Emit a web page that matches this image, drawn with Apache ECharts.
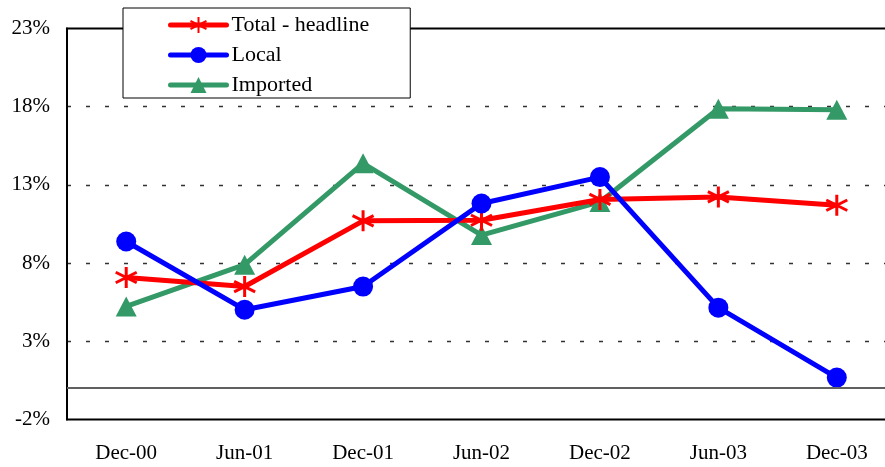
<!DOCTYPE html>
<html>
<head>
<meta charset="utf-8">
<script src="https://cdn.jsdelivr.net/npm/echarts@6/dist/echarts.min.js"></script>
<style>
html,body{margin:0;padding:0;background:#fff;}
#chart{width:885px;height:467px;}
</style>
</head>
<body>
<div id="chart"></div>
<script>
var categories = ['Dec-00', 'Jun-01', 'Dec-01', 'Jun-02', 'Dec-02', 'Jun-03', 'Dec-03'];
var totalHeadline = [7.08, 6.5, 10.7, 10.74, 12.07, 12.23, 11.7];
var local = [9.38, 5.02, 6.5, 11.81, 13.5, 5.15, 0.68];
var imported = [5.23, 7.9, 14.38, 9.79, 11.91, 17.87, 17.8];
var seriesNames = ['Total - headline', 'Local', 'Imported'];
var yMin = -2, yMax = 23, yStep = 5;

var FONT = '"Liberation Serif", "DejaVu Serif", serif';
var asterisk = 'path://M10,0L10,20M1.34,5L18.66,15M1.34,15L18.66,5';

var chart = echarts.init(document.getElementById('chart'), null, {renderer: 'canvas'});
chart.setOption({
  animation: false,
  backgroundColor: '#fff',
  textStyle: {fontFamily: FONT},
  grid: {
    left: 67, top: 28.5, width: 829, height: 391,
    outerBoundsMode: 'none',
    containLabel: false,
    show: true, borderColor: '#000', borderWidth: 2, backgroundColor: 'transparent'
  },
  legend: {
    orient: 'vertical',
    left: 123, top: 8,
    padding: [6, 41, 2, 45],
    itemGap: 8,
    itemWidth: 56,
    itemHeight: 20,
    backgroundColor: '#fff',
    borderColor: '#000',
    borderWidth: 1,
    z: 10,
    lineStyle: {width: 5, cap: 'round'},
    textStyle: {fontFamily: FONT, fontSize: 22, color: '#000'},
    data: seriesNames
  },
  xAxis: {
    type: 'category',
    data: categories,
    boundaryGap: true,
    axisLine: {show: true, lineStyle: {color: '#000', width: 2}},
    axisTick: {show: false},
    axisLabel: {fontFamily: FONT, fontSize: 21, color: '#000', margin: 23},
    splitLine: {show: false}
  },
  yAxis: {
    type: 'value',
    min: yMin, max: yMax, interval: yStep,
    axisLine: {show: true, lineStyle: {color: '#000', width: 2}},
    axisTick: {show: false},
    axisLabel: {fontFamily: FONT, fontSize: 21, color: '#000', margin: 17,
      formatter: function (v) { return v + '%'; }},
    splitLine: {show: true, showMinLine: false, showMaxLine: false,
      lineStyle: {color: '#333', width: 1.3, type: [4, 15]}}
  },
  series: [
    {
      name: seriesNames[0], type: 'line', data: totalHeadline,
      symbol: asterisk, symbolSize: 21,
      itemStyle: {color: '#ff0000', borderColor: '#ff0000', borderWidth: 3},
      lineStyle: {color: '#ff0000', width: 5},
      z: 3,
      markLine: {
        silent: true, symbol: 'none', label: {show: false},
        lineStyle: {color: '#808080', width: 1.5, type: 'solid'},
        data: [{yAxis: 0}]
      }
    },
    {
      name: seriesNames[1], type: 'line', data: local,
      symbol: 'circle', symbolSize: 20,
      itemStyle: {color: '#0000ff'},
      lineStyle: {color: '#0000ff', width: 5},
      z: 4
    },
    {
      name: seriesNames[2], type: 'line', data: imported,
      symbol: 'triangle', symbolSize: [21, 20],
      itemStyle: {color: '#339966'},
      lineStyle: {color: '#339966', width: 5},
      z: 2
    }
  ]
});
</script>
</body>
</html>
